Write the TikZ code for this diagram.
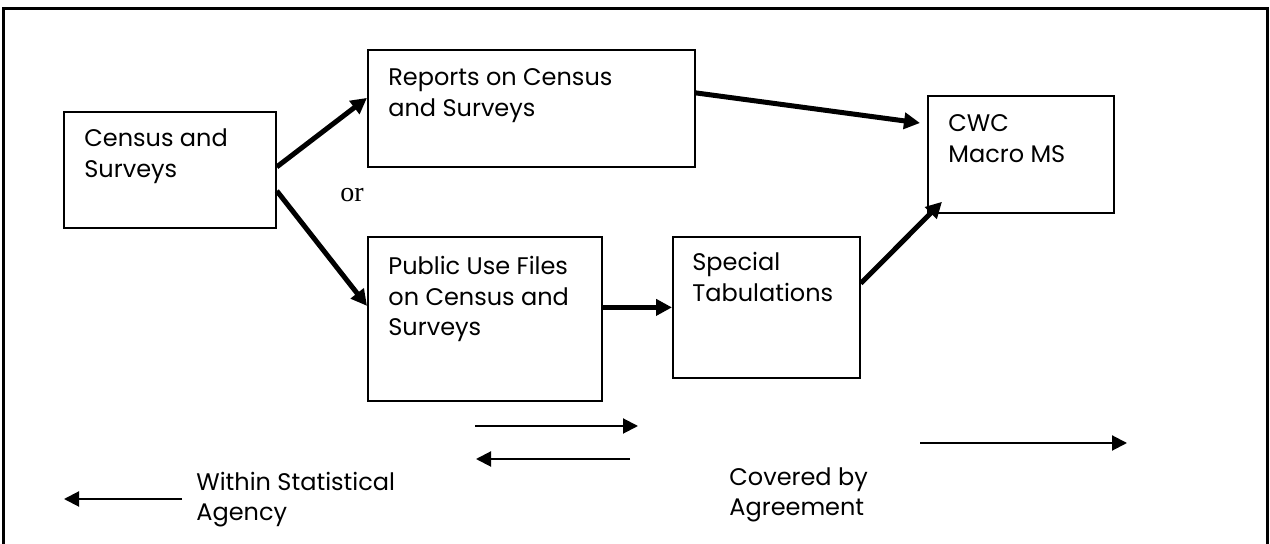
\documentclass[tikz,border=0pt]{standalone}
\usepackage{fontspec}
\setmainfont{Liberation Serif}
\setsansfont{Poppins}
\usepackage{tikz}
\usetikzlibrary{calc}
\usetikzlibrary{arrows.meta}

\tikzset{
  box/.style={draw, line width=0.9pt, anchor=north west, inner sep=0pt},
  boxtext/.style={anchor=base west, align=left, inner sep=0pt, font=\sffamily\fontsize{12}{15.25}\selectfont},
  bigarrow/.style={line width=2.5pt, -{Triangle[length=8pt,width=8pt]}},
  thinarrow/.style={line width=1pt, -{Triangle[length=7.5pt,width=7.5pt]}},
}

\begin{document}
\begin{tikzpicture}[x=0.5pt,y=-0.5pt]
\useasboundingbox (0,0) rectangle (1270,544);
% outer frame
\draw[line width=1.5pt] (3,544) -- (3,9) -- (1267,9) -- (1267,544);

% boxes
\node[box, minimum width=106pt, minimum height=58pt] (census) at (63,111) {};
\node[box, minimum width=163.5pt, minimum height=58.5pt] (reports) at (367,49) {};
\node[box, minimum width=117pt, minimum height=82pt] (public) at (367,236) {};
\node[box, minimum width=93.5pt, minimum height=70.5pt] (special) at (672,236) {};
\node[box, minimum width=93pt, minimum height=58.5pt] (cwc) at (927,95) {};

% text is set on the baseline of its last line
\node[boxtext] (census-txt) at ([shift={(21,66.5)}]census.north west) {Census and\\Surveys};
\node[boxtext] (reports-txt) at ([shift={(21,67.5)}]reports.north west) {Reports on Census\\and Surveys};
\node[boxtext] (public-txt) at ([shift={(21,100)}]public.north west) {Public Use Files\\on Census and\\Surveys};
\node[boxtext] (special-txt) at ([shift={(20,65.5)}]special.north west) {Special\\Tabulations};
\node[boxtext] (cwc-txt) at ([shift={(21,67.5)}]cwc.north west) {CWC\\Macro MS};

\node[font=\rmfamily\fontsize{14}{16}\selectfont, inner sep=0pt] (or) at (352,195) {or};

% flow
\draw[bigarrow] ([yshift=1.5pt]census.east) -- ([yshift=5.25pt]reports.west);
\draw[bigarrow] ([yshift=-10.5pt]census.east) -- ([yshift=6.5pt]public.west);
\draw[bigarrow] ([yshift=7.75pt]reports.east) -- ([shift={(-3.5pt,-14pt)}]cwc.north west);
\draw[bigarrow] (public.east |- special.west) -- (special.west);
\draw[bigarrow] ([yshift=12pt]special.east) -- ([shift={(7.5pt,6pt)}]cwc.south west);

% legend
\coordinate (fwd-a) at (475,426);
\coordinate (fwd-b) at (638,426);
\coordinate (back-a) at (630,459);
\coordinate (back-b) at (476,459);
\coordinate (within-a) at (182,499);
\coordinate (within-b) at (64,499);
\coordinate (covered-a) at (920,443);
\coordinate (covered-b) at (1127,443);
\draw[thinarrow] (fwd-a) -- (fwd-b);
\draw[thinarrow] (back-a) -- (back-b);
\draw[thinarrow] (within-a) -- (within-b);
\draw[thinarrow] (covered-a) -- (covered-b);

\node[boxtext] (within-txt) at (196,521) {Within Statistical\\Agency};
\node[boxtext] (covered-txt) at (729,516) {Covered by\\Agreement};
\end{tikzpicture}
\end{document}
